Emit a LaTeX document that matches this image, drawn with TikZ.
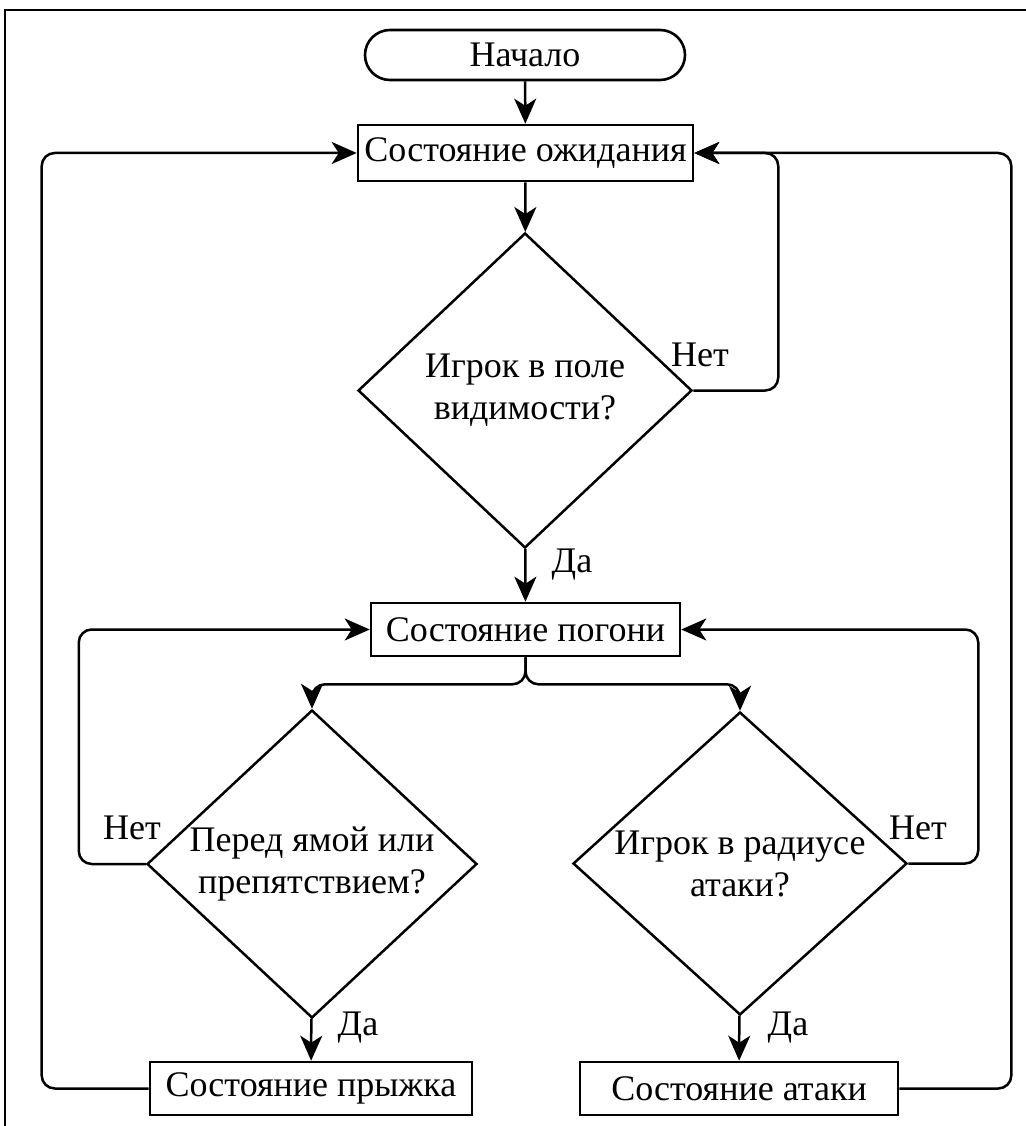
\documentclass[tikz,border=0pt]{standalone}
\usepackage{fontspec}
\setmainfont{Liberation Serif}
\usetikzlibrary{shapes.geometric,arrows.meta}
\begin{document}
\begin{tikzpicture}[x=1pt,y=-1pt,
  every node/.style={font=\fontsize{36}{42}\selectfont},
  box/.style={draw,line width=2.6pt,inner sep=0pt,minimum height=53pt},
  term/.style={box,rounded corners=25pt,minimum height=50pt},
  dec/.style={draw,line width=2.5pt,diamond,inner sep=0pt,align=center},
  lbl/.style={inner sep=0pt},
  conn/.style={line width=2.5pt,-{Stealth[length=25pt,width=22pt,inset=7pt]}},
  loop/.style={conn,rounded corners=13pt}]
\useasboundingbox (0,0) rectangle (1025,1126);
\draw[line width=2.6pt] (5,1130) -- (5,10) -- (1030,10);
\node[term,minimum width=320pt] (start) at (525,55) {Начало};
\node[box,minimum width=335pt,minimum height=56pt] (wait) at (525.5,153) {Состояние ожидания};
\node[dec,minimum width=334pt,minimum height=315pt,aspect=1.06] (d1) at (525,390.5) {Игрок в поле\\видимости?};
\node[box,minimum width=309pt] (chase) at (525.5,629.5) {Состояние погони};
\node[dec,minimum width=330pt,minimum height=308pt,aspect=1.07] (d2) at (312,864) {Перед ямой или\\препятствием?};
\node[dec,minimum width=334pt,minimum height=303pt,aspect=1.1] (d3) at (740,863.5) {Игрок в радиусе\\атаки?};
\node[box,minimum width=322pt] (jump) at (311,1088.5) {Состояние прыжка};
\node[box,minimum width=318pt] (attack) at (739,1088.5) {Состояние атаки};
\node[lbl] (n1) at (700,355) {Нет};
\node[lbl] (y1) at (572,565) {Да};
\node[lbl] (n2) at (132,828) {Нет};
\node[lbl] (n3) at (918,828) {Нет};
\node[lbl] (y2) at (358,1028) {Да};
\node[lbl] (y3) at (788,1028) {Да};
\draw[conn] (start) -- (wait);
\draw[conn] (wait) -- (d1);
\draw[conn] (d1) -- (chase);
\draw[loop] (d1.east) -- ++(85,0) |- (wait.east);
\draw[loop] (attack.east) -- ++(112,0) |- (wait.east);
\draw[loop] (jump.west) -- ++(-107,0) |- (wait.west);
\draw[loop] (chase.south) -- ++(0,27) -| (d2.north);
\draw[loop] (chase.south) -- ++(0,27) -| (d3.north);
\draw[conn] (d2) -- (jump);
\draw[conn] (d3) -- (attack);
\draw[loop] (d2.west) -- ++(-67,0) |- (chase.west);
\draw[loop] (d3.east) -- ++(70,0) |- (chase.east);
\end{tikzpicture}
\end{document}
